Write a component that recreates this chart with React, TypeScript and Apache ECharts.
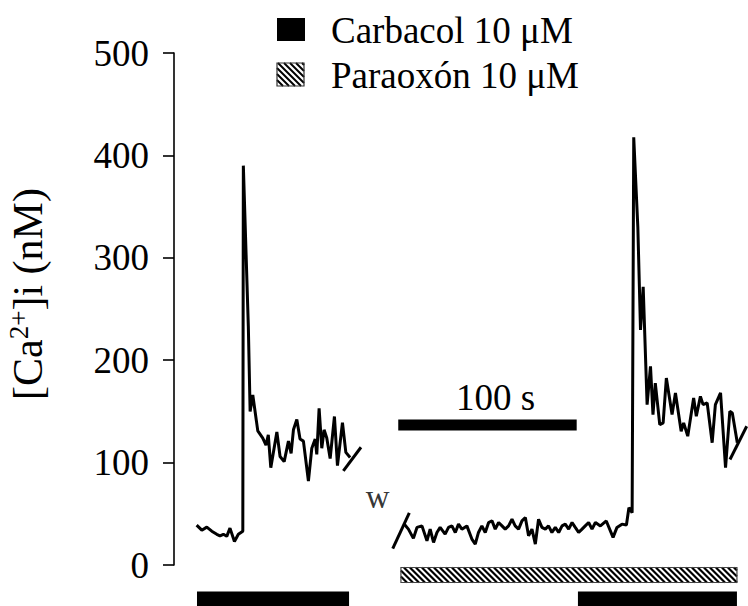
import React, { useEffect, useRef } from "react";
import * as echarts from "echarts";

const FONT = "Liberation Serif";

// y axis ticks (nM)
const yTickValues = [0, 100, 200, 300, 400, 500];

// Trace 1: carbachol before wash (time in s, [Ca2+]i in nM)
const seg1Time = [12.7, 15.6, 18.4, 21.2, 24.0, 25.8, 27.7, 29.6, 31.4, 33.9, 36.1, 38.6, 38.9, 41.7, 42.7, 44.2, 47.0, 49.8, 51.6, 52.9, 54.3, 57.7, 59.5, 61.8, 64.2, 65.7, 67.0, 68.9, 70.7, 72.6, 75.4, 77.3, 79.2, 80.1, 81.4, 82.9, 84.2, 85.7, 87.6, 90.0, 91.7, 94.5, 96.4, 98.8];
const seg1Ca = [39, 34, 37, 33, 30, 28.5, 30, 28, 36, 23, 30, 33, 390, 233, 150, 166, 131, 124, 117, 127, 95, 130, 106, 101, 121, 109, 132, 142, 123, 121, 82, 114, 123, 108, 153, 114, 132, 124, 104, 145, 97, 139, 110, 105];

// Trace 2: paraoxon, then carbachol
const seg2Time = [129.1, 131.5, 134.3, 136.3, 139.1, 141.9, 143.7, 145.6, 147.5, 149.3, 152.1, 154.0, 155.9, 157.8, 159.6, 161.5, 164.3, 167.1, 169.0, 170.8, 172.7, 174.6, 176.5, 178.4, 180.2, 182.1, 184.0, 185.8, 187.7, 189.6, 191.4, 193.3, 195.2, 197.1, 198.9, 200.8, 202.7, 204.5, 206.4, 208.3, 210.1, 212.0, 213.9, 215.8, 217.7, 219.5, 221.4, 223.3, 225.1, 227.0, 228.9, 230.7, 232.6, 234.5, 236.4, 239.2, 242.5, 246.3, 248.5, 251.3, 253.8, 255.2, 257.0, 257.9, 260.2, 261.7, 263.2, 265.4, 267.3, 268.7, 270.0, 272.5, 274.4, 276.2, 279.4, 281.3, 284.5, 285.9, 288.2, 291.5, 293.0, 295.3, 296.8, 299.1, 301.9, 303.7, 306.6, 309.4, 311.8, 313.2, 316.0];
const seg2Ca = [40, 35, 26, 36.7, 38.2, 23.6, 35, 22, 31.8, 36.7, 30.2, 36.7, 38.2, 31.8, 39.9, 35, 38.2, 25.3, 20.4, 31.8, 38.2, 31.8, 41.5, 43.1, 35, 41.5, 38.2, 35, 38.2, 44.7, 38.2, 35, 43.1, 46.4, 28.5, 35, 20.4, 44.7, 36.7, 35, 38.2, 31.8, 36.7, 31.8, 38.2, 39.9, 35, 41.5, 36.7, 31.8, 35, 38.2, 41.5, 35, 41.5, 38.2, 43, 27, 36.7, 39.9, 39, 56, 51, 417.6, 330, 229.6, 271.7, 156.6, 193.9, 146.9, 177.7, 137, 138.8, 182.6, 146.9, 168, 130.6, 138.8, 125.8, 163, 145.2, 164.7, 156.6, 158.3, 119.4, 156.6, 168, 95, 150, 148.5, 119.4];

// Break marks on the trace ([time, value] start/end)
const breakStart = [[95.0, 92], [122.7, 16], [311.9, 103]];
const breakEnd = [[104.9, 115], [132.0, 51], [321.3, 135.5]];

// Stimulus periods (s)
const carbacolStart = [12.9, 226.6];
const carbacolEnd = [98.2, 315.8];
const paraoxonStart = [127.3];
const paraoxonEnd = [315.8];

// Time scale bar
const scaleBarStart = 125.8;
const scaleBarEnd = 225.9;
const scaleBarLevel = 136.7;
const scaleBarLabel = "100 s";

// Wash annotation
const washLabel = "w";
const washTime = 114.2;
const washLevel = 66;

const legendCarbacol = "Carbacol 10 μM";
const legendParaoxon = "Paraoxón 10 μM";

function hatchLines(x: number, y: number, w: number, h: number, step: number, lw: number) {
  const out: any[] = [];
  for (let k = -h; k < w; k += step) {
    const s0 = Math.max(0, -k);
    const s1 = Math.min(h, w - k);
    if (s1 > s0) {
      out.push({
        type: "line",
        shape: { x1: x + k + s0, y1: y + s0, x2: x + k + s1, y2: y + s1 },
        style: { stroke: "#000", lineWidth: lw },
        silent: true,
      });
    }
  }
  return out;
}

export default function App() {
  const ref = useRef<HTMLDivElement>(null);

  useEffect(() => {
    document.body.style.margin = "0";
    if (!ref.current) return;
    const chart = echarts.init(ref.current, undefined, { renderer: "svg" });

    const zip = (t: number[], v: number[]) => t.map((x, i) => [x, v[i]]);

    const lineStyle = { color: "#000", width: 3 };

    const option: any = {
      animation: false,
      backgroundColor: "#fff",
      grid: { left: 174, right: 0, top: 53, bottom: 41, containLabel: false, outerBoundsMode: "none" },
      xAxis: { type: "value", min: 0, max: 322, show: false },
      yAxis: {
        type: "value",
        min: 0,
        max: 500,
        interval: 100,
        splitLine: { show: false },
        axisLine: { show: true, lineStyle: { color: "#000", width: 1.6 } },
        axisTick: { show: true, inside: false, length: 11, lineStyle: { color: "#000", width: 1.6 } },
        axisLabel: {
          color: "#000",
          fontFamily: FONT,
          fontSize: 37,
          margin: 25,
          formatter: (v: number) => (yTickValues.includes(v) ? String(v) : ""),
        },
        name: "{n|[Ca}{sup|2+}{n|]i (nM)}",
        nameLocation: "middle",
        nameRotate: 90,
        nameGap: 124,
        nameTextStyle: {
          color: "#000",
          padding: [0, 0, 0, 30],
          rich: {
            n: { fontFamily: FONT, fontSize: 42, color: "#000" },
            sup: { fontFamily: FONT, fontSize: 27, color: "#000", padding: [0, 0, 18, 0] },
          },
        },
      },
      series: [
        {
          type: "line",
          name: "trace1",
          data: zip(seg1Time, seg1Ca),
          showSymbol: false,
          lineStyle,
          z: 3,
        },
        {
          type: "line",
          name: "trace2",
          data: zip(seg2Time, seg2Ca),
          showSymbol: false,
          lineStyle,
          z: 3,
        },
        ...breakStart.map((s, i) => ({
          type: "line",
          name: "break" + i,
          data: [s, breakEnd[i]],
          showSymbol: false,
          lineStyle,
          z: 3,
        })),
        {
          type: "custom",
          name: "scalebar",
          data: [[scaleBarStart, scaleBarEnd, scaleBarLevel]],
          encode: { x: [0, 1], y: 2 },
          renderItem: (params: any, api: any) => {
            const a = api.coord([api.value(0), api.value(2)]);
            const b = api.coord([api.value(1), api.value(2)]);
            return {
              type: "group",
              children: [
                { type: "rect", shape: { x: a[0], y: a[1] - 5.5, width: b[0] - a[0], height: 11 }, style: { fill: "#000" } },
                {
                  type: "text",
                  x: (a[0] + b[0]) / 2 + 8,
                  y: a[1] - 9,
                  style: { text: scaleBarLabel, fontFamily: FONT, fontSize: 37, fill: "#000", align: "center", verticalAlign: "bottom" },
                },
              ],
            };
          },
        },
        {
          type: "custom",
          name: legendParaoxon,
          data: paraoxonStart.map((s, i) => [s, paraoxonEnd[i]]),
          encode: { x: [0, 1] },
          renderItem: (params: any, api: any) => {
            const a = api.coord([api.value(0), 0]);
            const b = api.coord([api.value(1), 0]);
            const x = a[0];
            const y = a[1] + 2.5;
            const w = b[0] - a[0];
            const h = 15;
            return {
              type: "group",
              children: [
                { type: "rect", shape: { x, y, width: w, height: h }, style: { fill: "#fff", stroke: "none" } },
                ...hatchLines(x, y, w, h, 6, 2.2),
                { type: "rect", shape: { x, y, width: w, height: h }, style: { fill: "none", stroke: "#444", lineWidth: 1.2 } },
              ],
            };
          },
        },
        {
          type: "custom",
          name: legendCarbacol,
          data: carbacolStart.map((s, i) => [s, carbacolEnd[i]]),
          encode: { x: [0, 1] },
          renderItem: (params: any, api: any) => {
            const a = api.coord([api.value(0), 0]);
            const b = api.coord([api.value(1), 0]);
            return {
              type: "rect",
              shape: { x: a[0], y: a[1] + 26.5, width: b[0] - a[0], height: 20 },
              style: { fill: "#000" },
            };
          },
        },
        {
          type: "scatter",
          name: "wash",
          data: [[washTime, washLevel]],
          symbolSize: 0,
          label: {
            show: true,
            position: "inside",
            formatter: washLabel,
            color: "#000",
            fontFamily: FONT,
            fontSize: 33,
          },
        },
      ],
      graphic: [
        { type: "rect", shape: { x: 277, y: 18, width: 28, height: 23 }, style: { fill: "#000" } },
        {
          type: "text",
          x: 331,
          y: 30,
          style: { text: legendCarbacol, fontFamily: FONT, fontSize: 37, fill: "#000", verticalAlign: "middle" },
        },
        {
          type: "group",
          children: [
            { type: "rect", shape: { x: 277, y: 63, width: 27, height: 23 }, style: { fill: "#fff" } },
            ...hatchLines(277, 63, 27, 23, 6, 2),
            { type: "rect", shape: { x: 277, y: 63, width: 27, height: 23 }, style: { fill: "none", stroke: "#333", lineWidth: 1.2 } },
          ],
        },
        {
          type: "text",
          x: 331,
          y: 75,
          style: { text: legendParaoxon, fontFamily: FONT, fontSize: 37, fill: "#000", verticalAlign: "middle" },
        },
      ],
    };

    chart.setOption(option);
    return () => chart.dispose();
  }, []);

  return <div ref={ref} style={{ width: 748, height: 606 }} />;
}
